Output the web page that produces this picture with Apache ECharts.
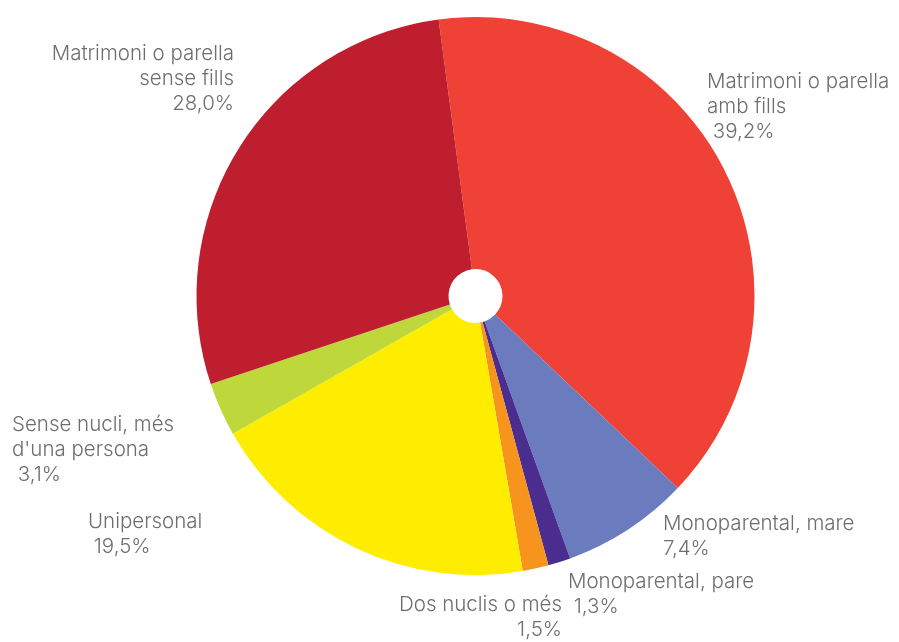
<!DOCTYPE html>
<html>
<head>
<meta charset="utf-8">
<script src="https://cdn.jsdelivr.net/npm/echarts@6/dist/echarts.min.js"></script>
<style>
  html, body { margin: 0; padding: 0; background: #fff; }
  #chart { width: 899px; height: 642px; }
</style>
</head>
<body>
<div id="chart"></div>
<script>
// categories, in clockwise order from the top
var categories = [
    'Matrimoni o parella\namb fills',
    'Monoparental, mare',
    'Monoparental, pare',
    'Dos nuclis o més',
    'Unipersonal',
    "Sense nucli, més\nd'una persona",
    'Matrimoni o parella\nsense fills'
]
var values = [39.2, 7.4, 1.3, 1.5, 19.5, 3.1, 28.0]
var valueLabels = [' 39,2%', '7,4%', ' 1,3%', '1,5%', ' 19,5%', ' 3,1%', '28,0%']
var colors = ['#EF4136', '#6A7BBE', '#4B2D8F', '#F7941D', '#FFED00', '#BED73B', '#BE1E2D']

// where each label block sits (text only)
var labelPos = [
    {x: 707, y: 107, align: 'left'},
    {x: 663, y: 536, align: 'left'},
    {x: 568, y: 594, align: 'left'},
    {x: 562, y: 617, align: 'right'},
    {x: 88, y: 534, align: 'left'},
    {x: 12, y: 450, align: 'left'},
    {x: 234, y: 79, align: 'right'}
]

var chart = echarts.init(document.getElementById('chart'))

var option = {
    animation: false,
    series: [{
        type: 'pie',
        center: [475.5, 296],
        radius: [27, 279],
        startAngle: 97.6,
        clockwise: true,
        avoidLabelOverlap: false,
        itemStyle: {borderWidth: 0},
        label: {
            show: true,
            position: 'outside',
            color: '#6D6E71',
            fontFamily: 'Inter',
            fontWeight: 300,
            fontSize: 20.5,
            lineHeight: 25,
            formatter: function (p) {
                return p.name + '\n' + valueLabels[p.dataIndex]
            }
        },
        labelLine: {show: false},
        labelLayout: function (params) {
            var lp = labelPos[params.dataIndex]
            return {x: lp.x, y: lp.y, align: lp.align, verticalAlign: 'middle'}
        },
        emphasis: {disabled: true},
        data: categories.map(function (c, i) {
            return {
                name: c,
                value: values[i],
                itemStyle: {color: colors[i]},
                label: {align: labelPos[i].align}
            }
        })
    }]
}

chart.setOption(option)
</script>
</body>
</html>
